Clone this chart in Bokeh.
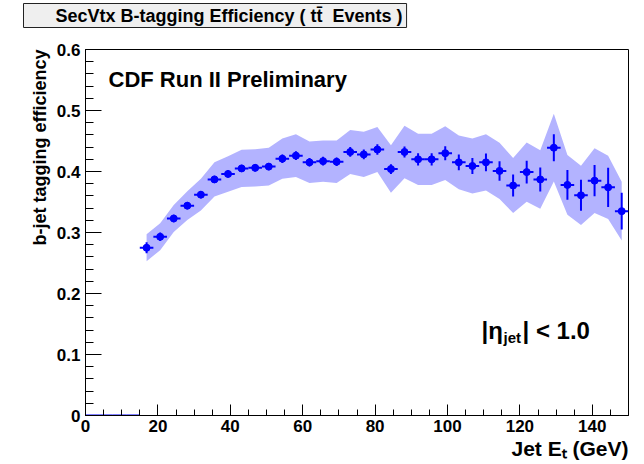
import math
from bokeh.plotting import figure
from bokeh.models import Range1d, Label, FixedTicker, Title
from bokeh.embed import file_html
from bokeh.resources import INLINE

# ---------------- data ----------------
et = [16.875, 20.625, 24.375, 28.125, 31.875, 35.625, 39.375, 43.125, 46.875, 50.625,
      54.375, 58.125, 61.875, 65.625, 69.375, 73.125, 76.875, 80.625, 84.375, 88.125,
      91.875, 95.625, 99.375, 103.125, 106.875, 110.625, 114.375, 118.125, 121.875, 125.625,
      129.375, 133.125, 136.875, 140.625, 144.375, 148.125]
eff = [0.275, 0.293, 0.323, 0.344, 0.362, 0.387, 0.396, 0.405, 0.406, 0.408,
       0.421, 0.426, 0.415, 0.417, 0.416, 0.432, 0.428, 0.436, 0.404, 0.432,
       0.420, 0.420, 0.430, 0.415, 0.409, 0.415, 0.401, 0.377, 0.399, 0.387,
       0.439, 0.378, 0.361, 0.385, 0.374, 0.335]
stat_err = [0.009, 0.007, 0.006, 0.006, 0.006, 0.006, 0.006, 0.006, 0.006, 0.006,
            0.007, 0.007, 0.007, 0.007, 0.007, 0.008, 0.008, 0.0085, 0.008, 0.009,
            0.010, 0.010, 0.0115, 0.013, 0.013, 0.0147, 0.016, 0.018, 0.0186, 0.0197,
            0.022, 0.0243, 0.0254, 0.0257, 0.032, 0.030]
syst_err = [0.022, 0.022, 0.022, 0.0235, 0.026, 0.028, 0.029, 0.0305, 0.0305, 0.031,
            0.033, 0.035, 0.034, 0.034, 0.035, 0.036, 0.037, 0.037, 0.039, 0.043,
            0.042, 0.042, 0.044, 0.044, 0.045, 0.046, 0.046, 0.045, 0.0486, 0.048,
            0.0555, 0.049, 0.0486, 0.053, 0.052, 0.048]
empty_et = [1.875, 5.625, 9.375, 13.125]
empty_eff = [0.0, 0.0, 0.0, 0.0]
bin_half_width = 1.875

x_tick_values = [0, 20, 40, 60, 80, 100, 120, 140]
x_tick_labels = ["0", "20", "40", "60", "80", "100", "120", "140"]
y_tick_values = [0.0, 0.1, 0.2, 0.3, 0.4, 0.5, 0.6]
y_tick_labels = ["0", "0.1", "0.2", "0.3", "0.4", "0.5", "0.6"]

title_text = "SecVtx B-tagging Efficiency ( tt\u0304 \u00a0Events )"
x_title = "Jet E\u209c (GeV)"
y_title = "b-jet tagging efficiency"
cdf_text = "CDF Run II Preliminary"

FONT = "Liberation Sans"
BLUE = "#0000ff"
BAND = "#b3b3ff"

p = figure(width=644, height=464, output_backend="svg", toolbar_location=None,
           x_range=Range1d(0, 150), y_range=Range1d(0, 0.6),
           min_border_left=85, min_border_right=16, min_border_top=49, min_border_bottom=49)
p.background_fill_color = "white"
p.border_fill_color = "white"
p.grid.visible = False
p.outline_line_color = "black"
p.outline_line_width = 1

# systematic band
lower = [e - s for e, s in zip(eff, syst_err)]
upper = [e + s for e, s in zip(eff, syst_err)]
p.varea(x=et, y1=lower, y2=upper, fill_color=BAND, fill_alpha=1.0)

# empty bins
p.segment(x0=[x - bin_half_width for x in empty_et], x1=[x + bin_half_width for x in empty_et],
          y0=empty_eff, y1=empty_eff, line_color=BLUE, line_width=2)

# error bars and points
p.segment(x0=[x - bin_half_width for x in et], x1=[x + bin_half_width for x in et],
          y0=eff, y1=eff, line_color=BLUE, line_width=2)
p.segment(x0=et, x1=et, y0=[e - s for e, s in zip(eff, stat_err)],
          y1=[e + s for e, s in zip(eff, stat_err)], line_color=BLUE, line_width=2)
p.scatter(x=et, y=eff, size=7, marker="circle", fill_color=BLUE, line_color=BLUE)

# axes
p.xaxis.ticker = FixedTicker(ticks=x_tick_values, minor_ticks=[5 * i for i in range(31)])
p.xaxis.major_label_overrides = dict(zip(x_tick_values, x_tick_labels))
p.yaxis.ticker = FixedTicker(ticks=y_tick_values, minor_ticks=[round(0.02 * i, 2) for i in range(31)])
p.yaxis.major_label_overrides = dict(zip(y_tick_values, y_tick_labels))
for ax in (p.xaxis[0], p.yaxis[0]):
    ax.major_label_text_font = FONT
    ax.major_label_text_font_style = "bold"
    ax.major_label_text_font_size = "17px"
    ax.major_label_text_color = "black"
    ax.axis_line_color = "black"
    ax.axis_line_width = 1
    ax.major_tick_line_color = "black"
    ax.minor_tick_line_color = "black"
    ax.major_tick_out = 0
    ax.minor_tick_out = 0
p.xaxis.major_label_standoff = 4
p.yaxis.major_label_standoff = 5
p.xaxis.major_tick_in = 11
p.xaxis.minor_tick_in = 6
p.yaxis.major_tick_in = 16
p.yaxis.minor_tick_in = 8

# spacer between frame and the boxed title
p.add_layout(Title(text="\u00a0", standoff=6, text_font=FONT, text_font_size="12px",
                   text_color="white"), "above")

# plot title in a box
p.title.text = title_text
p.title.align = "left"
p.title.offset = -62
p.title.standoff = 0
p.title.text_font = FONT
p.title.text_font_style = "bold"
p.title.text_font_size = "18px"
p.title.text_color = "black"
p.title.background_fill_color = "#efefef"
p.title.border_line_color = "#222222"
p.title.border_line_width = 1
try:
    p.title.padding = (32, 4, 2, 2)
except Exception:
    pass

# axis titles
p.add_layout(Title(text=y_title, align="right", standoff=8, text_font=FONT,
                   text_font_style="bold", text_font_size="18px", text_color="black"), "left")
p.add_layout(Title(text=x_title, align="right", standoff=0, text_font=FONT,
                   text_font_style="bold", text_font_size="21px", text_color="black"), "below")


def text(txt, x, y, size, align="left"):
    p.add_layout(Label(x=x, y=y, x_units="canvas", y_units="canvas", text=txt,
                       text_font=FONT, text_font_style="bold", text_font_size=f"{size}px",
                       text_align=align, text_baseline="alphabetic", text_color="black"))


# in-plot texts
text(cdf_text, 108, 79, 22)
text("|\u03b7", 481, 330, 24)
text("jet", 503, 337, 15)
text("| < 1.0", 522, 330, 24)

open("out.html", "w").write(file_html(p, INLINE))
